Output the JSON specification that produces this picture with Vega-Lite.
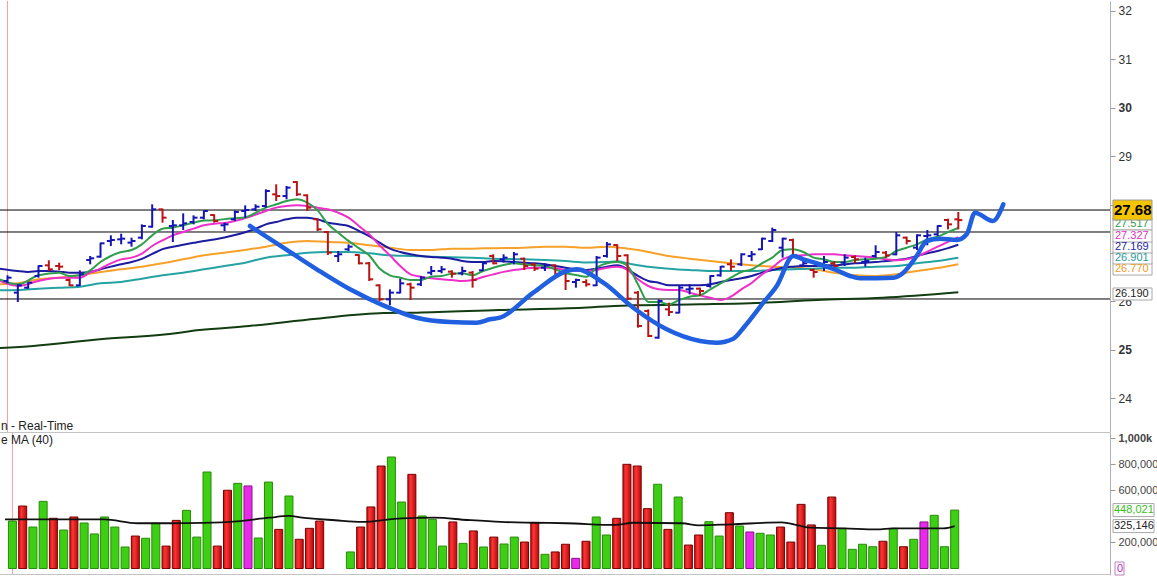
{
"$schema":"https://vega.github.io/schema/vega-lite/v6.json",
"background":"#ffffff",
"padding":0,
"spacing":0,
"bounds":"flush",
"config":{"view":{"stroke":null},"font":"Liberation Sans","axis":{"grid":false}},
"datasets":{
"bars":[
{"i":0,"o":26.422,"h":26.539,"l":26.373,"c":26.49,"d":"u","v":364000,"vc":"g"},
{"i":1,"o":26.181,"h":26.353,"l":25.988,"c":26.332,"d":"u","v":479000,"vc":"r"},
{"i":2,"o":26.284,"h":26.401,"l":26.263,"c":26.387,"d":"u","v":318000,"vc":"g"},
{"i":3,"o":26.525,"h":26.745,"l":26.49,"c":26.732,"d":"u","v":515000,"vc":"g"},
{"i":4,"o":26.745,"h":26.849,"l":26.628,"c":26.663,"d":"d","v":385000,"vc":"r"},
{"i":5,"o":26.732,"h":26.8,"l":26.642,"c":26.718,"d":"d","v":295000,"vc":"g"},
{"i":6,"o":26.442,"h":26.47,"l":26.318,"c":26.332,"d":"d","v":395000,"vc":"r"},
{"i":7,"o":26.332,"h":26.642,"l":26.318,"c":26.559,"d":"u","v":349000,"vc":"g"},
{"i":8,"o":26.855,"h":26.938,"l":26.766,"c":26.89,"d":"u","v":265000,"vc":"g"},
{"i":9,"o":26.924,"h":27.214,"l":26.904,"c":27.2,"d":"u","v":395000,"vc":"g"},
{"i":10,"o":27.248,"h":27.365,"l":27.145,"c":27.269,"d":"u","v":318000,"vc":"g"},
{"i":11,"o":27.282,"h":27.4,"l":27.179,"c":27.296,"d":"u","v":165000,"vc":"g"},
{"i":12,"o":27.214,"h":27.317,"l":27.131,"c":27.248,"d":"u","v":249000,"vc":"r"},
{"i":13,"o":27.317,"h":27.592,"l":27.282,"c":27.558,"d":"u","v":232000,"vc":"g"},
{"i":14,"o":27.544,"h":28.006,"l":27.524,"c":27.902,"d":"u","v":347000,"vc":"g"},
{"i":15,"o":27.902,"h":27.916,"l":27.627,"c":27.73,"d":"d","v":172000,"vc":"r"},
{"i":16,"o":27.558,"h":27.682,"l":27.227,"c":27.572,"d":"u","v":369000,"vc":"r"},
{"i":17,"o":27.572,"h":27.82,"l":27.475,"c":27.613,"d":"u","v":446000,"vc":"g"},
{"i":18,"o":27.641,"h":27.778,"l":27.592,"c":27.73,"d":"u","v":241000,"vc":"g"},
{"i":19,"o":27.73,"h":27.882,"l":27.696,"c":27.868,"d":"u","v":740000,"vc":"g"},
{"i":20,"o":27.785,"h":27.799,"l":27.627,"c":27.661,"d":"d","v":172000,"vc":"r"},
{"i":21,"o":27.572,"h":27.627,"l":27.455,"c":27.592,"d":"u","v":600000,"vc":"r"},
{"i":22,"o":27.696,"h":27.882,"l":27.661,"c":27.847,"d":"u","v":653000,"vc":"g"},
{"i":23,"o":27.868,"h":27.985,"l":27.73,"c":27.888,"d":"u","v":633000,"vc":"m"},
{"i":24,"o":27.902,"h":28.006,"l":27.868,"c":27.957,"d":"u","v":234000,"vc":"g"},
{"i":25,"o":27.971,"h":28.316,"l":27.937,"c":28.281,"d":"u","v":663000,"vc":"g"},
{"i":26,"o":28.212,"h":28.419,"l":28.074,"c":28.178,"d":"d","v":300000,"vc":"r"},
{"i":27,"o":28.178,"h":28.384,"l":28.109,"c":28.35,"d":"u","v":556000,"vc":"g"},
{"i":28,"o":28.467,"h":28.488,"l":28.178,"c":28.212,"d":"d","v":224000,"vc":"r"},
{"i":29,"o":28.192,"h":28.212,"l":27.868,"c":27.937,"d":"d","v":308000,"vc":"r"},
{"i":30,"o":27.696,"h":27.709,"l":27.455,"c":27.489,"d":"d","v":364000,"vc":"r"},
{"i":31,"o":27.434,"h":27.455,"l":26.959,"c":27.007,"d":"d","v":null,"vc":"r"},
{"i":32,"o":26.938,"h":27.041,"l":26.814,"c":26.973,"d":"u","v":null,"vc":"g"},
{"i":33,"o":27.076,"h":27.179,"l":27.041,"c":27.131,"d":"u","v":127000,"vc":"g"},
{"i":34,"o":26.959,"h":26.973,"l":26.766,"c":26.787,"d":"d","v":318000,"vc":"r"},
{"i":35,"o":26.787,"h":26.814,"l":26.422,"c":26.456,"d":"d","v":472000,"vc":"r"},
{"i":36,"o":26.332,"h":26.353,"l":26.008,"c":26.043,"d":"d","v":786000,"vc":"r"},
{"i":37,"o":26.043,"h":26.249,"l":25.919,"c":26.181,"d":"u","v":855000,"vc":"g"},
{"i":38,"o":26.181,"h":26.47,"l":26.167,"c":26.373,"d":"u","v":510000,"vc":"g"},
{"i":39,"o":26.353,"h":26.387,"l":26.029,"c":26.284,"d":"d","v":722000,"vc":"r"},
{"i":40,"o":26.353,"h":26.525,"l":26.318,"c":26.49,"d":"u","v":403000,"vc":"g"},
{"i":41,"o":26.594,"h":26.732,"l":26.539,"c":26.628,"d":"u","v":377000,"vc":"g"},
{"i":42,"o":26.628,"h":26.732,"l":26.58,"c":26.663,"d":"u","v":172000,"vc":"g"},
{"i":43,"o":26.614,"h":26.642,"l":26.49,"c":26.573,"d":"d","v":357000,"vc":"r"},
{"i":44,"o":26.58,"h":26.718,"l":26.539,"c":26.628,"d":"u","v":193000,"vc":"g"},
{"i":45,"o":26.594,"h":26.628,"l":26.284,"c":26.442,"d":"d","v":288000,"vc":"r"},
{"i":46,"o":26.642,"h":26.814,"l":26.628,"c":26.787,"d":"u","v":165000,"vc":"g"},
{"i":47,"o":26.938,"h":26.973,"l":26.766,"c":26.787,"d":"d","v":241000,"vc":"r"},
{"i":48,"o":26.869,"h":26.973,"l":26.8,"c":26.904,"d":"u","v":188000,"vc":"g"},
{"i":49,"o":26.814,"h":27.021,"l":26.766,"c":26.973,"d":"u","v":241000,"vc":"g"},
{"i":50,"o":26.883,"h":26.904,"l":26.649,"c":26.732,"d":"d","v":203000,"vc":"r"},
{"i":51,"o":26.766,"h":26.787,"l":26.628,"c":26.677,"d":"d","v":351000,"vc":"r"},
{"i":52,"o":26.697,"h":26.787,"l":26.628,"c":26.745,"d":"u","v":109000,"vc":"g"},
{"i":53,"o":26.745,"h":26.766,"l":26.525,"c":26.559,"d":"d","v":127000,"vc":"r"},
{"i":54,"o":26.58,"h":26.594,"l":26.236,"c":26.422,"d":"d","v":186000,"vc":"r"},
{"i":55,"o":26.401,"h":26.47,"l":26.284,"c":26.442,"d":"u","v":78000,"vc":"m"},
{"i":56,"o":26.401,"h":26.456,"l":26.305,"c":26.353,"d":"d","v":209000,"vc":"r"},
{"i":57,"o":26.332,"h":26.938,"l":26.318,"c":26.904,"d":"u","v":395000,"vc":"g"},
{"i":58,"o":26.938,"h":27.227,"l":26.904,"c":27.179,"d":"u","v":257000,"vc":"g"},
{"i":59,"o":27.165,"h":27.179,"l":26.835,"c":26.938,"d":"d","v":385000,"vc":"r"},
{"i":60,"o":26.952,"h":26.973,"l":26.029,"c":26.057,"d":"d","v":799000,"vc":"r"},
{"i":61,"o":26.181,"h":26.215,"l":25.457,"c":25.492,"d":"d","v":786000,"vc":"r"},
{"i":62,"o":25.802,"h":25.836,"l":25.265,"c":25.285,"d":"d","v":459000,"vc":"r"},
{"i":63,"o":25.251,"h":26.043,"l":25.23,"c":26.008,"d":"u","v":646000,"vc":"g"},
{"i":64,"o":25.836,"h":25.974,"l":25.698,"c":25.781,"d":"d","v":300000,"vc":"r"},
{"i":65,"o":25.767,"h":26.318,"l":25.753,"c":26.284,"d":"u","v":548000,"vc":"g"},
{"i":66,"o":26.249,"h":26.353,"l":26.146,"c":26.263,"d":"u","v":180000,"vc":"r"},
{"i":67,"o":26.263,"h":26.284,"l":26.112,"c":26.215,"d":"d","v":257000,"vc":"r"},
{"i":68,"o":26.318,"h":26.539,"l":26.284,"c":26.525,"d":"u","v":359000,"vc":"g"},
{"i":69,"o":26.539,"h":26.732,"l":26.511,"c":26.718,"d":"u","v":249000,"vc":"g"},
{"i":70,"o":26.766,"h":26.869,"l":26.628,"c":26.718,"d":"d","v":428000,"vc":"r"},
{"i":71,"o":26.766,"h":26.993,"l":26.732,"c":26.973,"d":"u","v":326000,"vc":"g"},
{"i":72,"o":26.938,"h":27.041,"l":26.835,"c":26.973,"d":"u","v":280000,"vc":"m"},
{"i":73,"o":27.076,"h":27.317,"l":27.062,"c":27.296,"d":"u","v":270000,"vc":"g"},
{"i":74,"o":27.248,"h":27.524,"l":27.227,"c":27.475,"d":"u","v":257000,"vc":"g"},
{"i":75,"o":27.11,"h":27.317,"l":26.904,"c":27.296,"d":"u","v":318000,"vc":"r"},
{"i":76,"o":27.269,"h":27.296,"l":26.904,"c":26.952,"d":"d","v":203000,"vc":"r"},
{"i":77,"o":26.745,"h":26.869,"l":26.732,"c":26.787,"d":"u","v":492000,"vc":"r"},
{"i":78,"o":26.649,"h":26.677,"l":26.49,"c":26.608,"d":"d","v":334000,"vc":"r"},
{"i":79,"o":26.732,"h":26.938,"l":26.628,"c":26.814,"d":"u","v":178000,"vc":"g"},
{"i":80,"o":26.787,"h":26.835,"l":26.663,"c":26.732,"d":"d","v":548000,"vc":"r"},
{"i":81,"o":26.8,"h":26.973,"l":26.732,"c":26.904,"d":"u","v":308000,"vc":"g"},
{"i":82,"o":26.917,"h":26.952,"l":26.787,"c":26.869,"d":"d","v":147000,"vc":"g"},
{"i":83,"o":26.814,"h":26.904,"l":26.718,"c":26.835,"d":"u","v":186000,"vc":"g"},
{"i":84,"o":26.938,"h":27.159,"l":26.904,"c":27.021,"d":"u","v":167000,"vc":"g"},
{"i":85,"o":27.007,"h":27.041,"l":26.904,"c":26.952,"d":"d","v":209000,"vc":"r"},
{"i":86,"o":26.973,"h":27.434,"l":26.952,"c":27.365,"d":"u","v":308000,"vc":"g"},
{"i":87,"o":27.317,"h":27.338,"l":27.179,"c":27.248,"d":"d","v":167000,"vc":"r"},
{"i":88,"o":27.11,"h":27.386,"l":27.062,"c":27.365,"d":"u","v":224000,"vc":"g"},
{"i":89,"o":27.351,"h":27.475,"l":27.159,"c":27.365,"d":"u","v":357000,"vc":"m"},
{"i":90,"o":27.386,"h":27.572,"l":27.351,"c":27.558,"d":"u","v":408000,"vc":"g"},
{"i":91,"o":27.682,"h":27.709,"l":27.489,"c":27.592,"d":"d","v":167000,"vc":"g"},
{"i":92,"o":27.696,"h":27.847,"l":27.489,"c":27.68,"d":"d","v":448021,"vc":"g"}
],
"ma":[
{"s":"d","i":-0.73,"p":25.037},{"s":"d","i":2.5,"p":25.079},{"s":"d","i":8.95,"p":25.217},{"s":"d","i":15.4,"p":25.32},{"s":"d","i":18.6,"p":25.409},{"s":"d","i":23.4,"p":25.492},{"s":"d","i":29.9,"p":25.643},{"s":"d","i":36.4,"p":25.76},{"s":"d","i":39.6,"p":25.767},{"s":"d","i":47.6,"p":25.822},{"s":"d","i":55.7,"p":25.87},{"s":"d","i":60.6,"p":25.919},{"s":"d","i":67,"p":25.94},{"s":"d","i":71.84,"p":25.961},{"s":"d","i":78.3,"p":26.029},{"s":"d","i":84.7,"p":26.077},{"s":"d","i":92,"p":26.19},
{"s":"o","i":-0.73,"p":26.353},{"s":"o","i":1,"p":26.373},{"s":"o","i":3,"p":26.456},{"s":"o","i":5,"p":26.49},{"s":"o","i":7,"p":26.539},{"s":"o","i":9,"p":26.608},{"s":"o","i":11,"p":26.663},{"s":"o","i":13,"p":26.718},{"s":"o","i":15,"p":26.787},{"s":"o","i":17,"p":26.869},{"s":"o","i":19,"p":26.952},{"s":"o","i":21,"p":27.007},{"s":"o","i":23,"p":27.062},{"s":"o","i":25,"p":27.131},{"s":"o","i":27,"p":27.214},{"s":"o","i":29,"p":27.248},{"s":"o","i":31,"p":27.227},{"s":"o","i":33,"p":27.214},{"s":"o","i":35,"p":27.159},{"s":"o","i":37,"p":27.11},{"s":"o","i":39,"p":27.062},{"s":"o","i":41,"p":27.062},{"s":"o","i":43,"p":27.09},{"s":"o","i":45,"p":27.09},{"s":"o","i":47,"p":27.1},{"s":"o","i":50,"p":27.11},{"s":"o","i":52,"p":27.131},{"s":"o","i":54,"p":27.131},{"s":"o","i":56,"p":27.11},{"s":"o","i":58,"p":27.131},{"s":"o","i":60,"p":27.09},{"s":"o","i":61,"p":27.062},{"s":"o","i":62,"p":27.021},{"s":"o","i":64,"p":26.938},{"s":"o","i":66,"p":26.883},{"s":"o","i":68,"p":26.835},{"s":"o","i":70,"p":26.787},{"s":"o","i":72,"p":26.745},{"s":"o","i":74,"p":26.718},{"s":"o","i":76,"p":26.697},{"s":"o","i":78,"p":26.663},{"s":"o","i":80,"p":26.594},{"s":"o","i":82,"p":26.539},{"s":"o","i":84,"p":26.525},{"s":"o","i":86,"p":26.559},{"s":"o","i":88,"p":26.628},{"s":"o","i":90,"p":26.69},{"s":"o","i":92,"p":26.77},
{"s":"t","i":-0.73,"p":26.229},{"s":"t","i":1,"p":26.236},{"s":"t","i":3,"p":26.263},{"s":"t","i":5,"p":26.284},{"s":"t","i":7,"p":26.305},{"s":"t","i":9,"p":26.373},{"s":"t","i":11,"p":26.401},{"s":"t","i":13,"p":26.47},{"s":"t","i":15,"p":26.539},{"s":"t","i":17,"p":26.594},{"s":"t","i":19,"p":26.663},{"s":"t","i":21,"p":26.732},{"s":"t","i":23,"p":26.8},{"s":"t","i":25,"p":26.904},{"s":"t","i":27,"p":26.952},{"s":"t","i":29,"p":27.007},{"s":"t","i":31,"p":27.021},{"s":"t","i":33,"p":27.021},{"s":"t","i":35,"p":26.993},{"s":"t","i":37,"p":26.952},{"s":"t","i":39,"p":26.938},{"s":"t","i":41,"p":26.924},{"s":"t","i":43,"p":26.91},{"s":"t","i":45,"p":26.9},{"s":"t","i":47,"p":26.883},{"s":"t","i":50,"p":26.869},{"s":"t","i":52,"p":26.855},{"s":"t","i":54,"p":26.835},{"s":"t","i":56,"p":26.805},{"s":"t","i":58,"p":26.814},{"s":"t","i":59,"p":26.83},{"s":"t","i":60,"p":26.787},{"s":"t","i":61,"p":26.745},{"s":"t","i":62,"p":26.718},{"s":"t","i":64,"p":26.677},{"s":"t","i":66,"p":26.649},{"s":"t","i":68,"p":26.628},{"s":"t","i":70,"p":26.628},{"s":"t","i":72,"p":26.628},{"s":"t","i":74,"p":26.649},{"s":"t","i":76,"p":26.663},{"s":"t","i":78,"p":26.677},{"s":"t","i":80,"p":26.697},{"s":"t","i":82,"p":26.697},{"s":"t","i":84,"p":26.718},{"s":"t","i":86,"p":26.732},{"s":"t","i":88,"p":26.787},{"s":"t","i":90,"p":26.835},{"s":"t","i":92,"p":26.901},
{"s":"b","i":-0.73,"p":26.677},{"s":"b","i":1,"p":26.628},{"s":"b","i":2,"p":26.608},{"s":"b","i":3,"p":26.628},{"s":"b","i":4,"p":26.628},{"s":"b","i":5,"p":26.614},{"s":"b","i":6,"p":26.594},{"s":"b","i":7,"p":26.594},{"s":"b","i":8,"p":26.608},{"s":"b","i":9,"p":26.663},{"s":"b","i":10,"p":26.718},{"s":"b","i":11,"p":26.766},{"s":"b","i":12,"p":26.814},{"s":"b","i":13,"p":26.88},{"s":"b","i":14,"p":26.98},{"s":"b","i":15,"p":27.08},{"s":"b","i":16,"p":27.13},{"s":"b","i":17,"p":27.17},{"s":"b","i":18,"p":27.21},{"s":"b","i":19,"p":27.25},{"s":"b","i":20,"p":27.28},{"s":"b","i":21,"p":27.32},{"s":"b","i":22,"p":27.37},{"s":"b","i":23,"p":27.43},{"s":"b","i":24,"p":27.5},{"s":"b","i":25,"p":27.592},{"s":"b","i":26,"p":27.641},{"s":"b","i":27,"p":27.696},{"s":"b","i":28,"p":27.73},{"s":"b","i":29,"p":27.73},{"s":"b","i":30,"p":27.696},{"s":"b","i":31,"p":27.627},{"s":"b","i":32,"p":27.592},{"s":"b","i":33,"p":27.558},{"s":"b","i":34,"p":27.455},{"s":"b","i":35,"p":27.351},{"s":"b","i":36,"p":27.214},{"s":"b","i":37,"p":27.09},{"s":"b","i":38,"p":27.021},{"s":"b","i":39,"p":26.973},{"s":"b","i":40,"p":26.938},{"s":"b","i":41,"p":26.917},{"s":"b","i":42,"p":26.904},{"s":"b","i":43,"p":26.883},{"s":"b","i":44,"p":26.835},{"s":"b","i":45,"p":26.814},{"s":"b","i":46,"p":26.814},{"s":"b","i":47,"p":26.835},{"s":"b","i":48,"p":26.83},{"s":"b","i":49,"p":26.814},{"s":"b","i":50,"p":26.8},{"s":"b","i":51,"p":26.787},{"s":"b","i":52,"p":26.766},{"s":"b","i":53,"p":26.732},{"s":"b","i":54,"p":26.697},{"s":"b","i":55,"p":26.663},{"s":"b","i":56,"p":26.649},{"s":"b","i":57,"p":26.677},{"s":"b","i":58,"p":26.718},{"s":"b","i":59,"p":26.745},{"s":"b","i":60,"p":26.663},{"s":"b","i":61,"p":26.525},{"s":"b","i":62,"p":26.422},{"s":"b","i":63,"p":26.387},{"s":"b","i":64,"p":26.332},{"s":"b","i":65,"p":26.332},{"s":"b","i":66,"p":26.332},{"s":"b","i":67,"p":26.332},{"s":"b","i":68,"p":26.353},{"s":"b","i":69,"p":26.401},{"s":"b","i":70,"p":26.442},{"s":"b","i":71,"p":26.477},{"s":"b","i":72,"p":26.525},{"s":"b","i":73,"p":26.594},{"s":"b","i":74,"p":26.649},{"s":"b","i":75,"p":26.697},{"s":"b","i":76,"p":26.718},{"s":"b","i":77,"p":26.732},{"s":"b","i":78,"p":26.732},{"s":"b","i":79,"p":26.745},{"s":"b","i":80,"p":26.745},{"s":"b","i":81,"p":26.766},{"s":"b","i":82,"p":26.787},{"s":"b","i":83,"p":26.8},{"s":"b","i":84,"p":26.814},{"s":"b","i":85,"p":26.835},{"s":"b","i":86,"p":26.855},{"s":"b","i":87,"p":26.883},{"s":"b","i":88,"p":26.938},{"s":"b","i":89,"p":26.993},{"s":"b","i":90,"p":27.041},{"s":"b","i":91,"p":27.1},{"s":"b","i":92,"p":27.169},
{"s":"m","i":-0.73,"p":26.422},{"s":"m","i":1,"p":26.318},{"s":"m","i":3,"p":26.422},{"s":"m","i":5,"p":26.49},{"s":"m","i":7,"p":26.49},{"s":"m","i":8,"p":26.594},{"s":"m","i":9,"p":26.677},{"s":"m","i":10,"p":26.787},{"s":"m","i":11,"p":26.869},{"s":"m","i":12,"p":26.904},{"s":"m","i":13,"p":26.986},{"s":"m","i":14,"p":27.145},{"s":"m","i":15,"p":27.262},{"s":"m","i":16,"p":27.365},{"s":"m","i":17,"p":27.434},{"s":"m","i":18,"p":27.503},{"s":"m","i":19,"p":27.572},{"s":"m","i":20,"p":27.606},{"s":"m","i":21,"p":27.62},{"s":"m","i":22,"p":27.66},{"s":"m","i":23,"p":27.72},{"s":"m","i":25,"p":27.868},{"s":"m","i":26,"p":27.937},{"s":"m","i":27,"p":27.971},{"s":"m","i":28,"p":27.985},{"s":"m","i":29,"p":27.971},{"s":"m","i":30,"p":27.937},{"s":"m","i":31,"p":27.902},{"s":"m","i":32,"p":27.833},{"s":"m","i":33,"p":27.73},{"s":"m","i":34,"p":27.558},{"s":"m","i":35,"p":27.386},{"s":"m","i":36,"p":27.159},{"s":"m","i":37,"p":26.952},{"s":"m","i":38,"p":26.732},{"s":"m","i":39,"p":26.559},{"s":"m","i":40,"p":26.511},{"s":"m","i":41,"p":26.477},{"s":"m","i":42,"p":26.456},{"s":"m","i":43,"p":26.442},{"s":"m","i":44,"p":26.422},{"s":"m","i":45,"p":26.442},{"s":"m","i":46,"p":26.504},{"s":"m","i":47,"p":26.559},{"s":"m","i":48,"p":26.61},{"s":"m","i":49,"p":26.649},{"s":"m","i":50,"p":26.677},{"s":"m","i":51,"p":26.697},{"s":"m","i":52,"p":26.697},{"s":"m","i":53,"p":26.683},{"s":"m","i":54,"p":26.649},{"s":"m","i":55,"p":26.628},{"s":"m","i":56,"p":26.628},{"s":"m","i":57,"p":26.649},{"s":"m","i":58,"p":26.697},{"s":"m","i":59,"p":26.718},{"s":"m","i":60,"p":26.649},{"s":"m","i":61,"p":26.456},{"s":"m","i":62,"p":26.318},{"s":"m","i":63,"p":26.249},{"s":"m","i":64,"p":26.236},{"s":"m","i":65,"p":26.236},{"s":"m","i":66,"p":26.181},{"s":"m","i":67,"p":26.125},{"s":"m","i":68,"p":26.077},{"s":"m","i":69,"p":26.029},{"s":"m","i":70,"p":26.098},{"s":"m","i":71,"p":26.249},{"s":"m","i":72,"p":26.38},{"s":"m","i":73,"p":26.559},{"s":"m","i":74,"p":26.697},{"s":"m","i":75,"p":26.869},{"s":"m","i":76,"p":26.938},{"s":"m","i":77,"p":26.952},{"s":"m","i":78,"p":26.973},{"s":"m","i":79,"p":26.973},{"s":"m","i":80,"p":26.973},{"s":"m","i":81,"p":26.952},{"s":"m","i":82,"p":26.938},{"s":"m","i":83,"p":26.924},{"s":"m","i":84,"p":26.904},{"s":"m","i":85,"p":26.87},{"s":"m","i":86,"p":26.85},{"s":"m","i":87,"p":26.87},{"s":"m","i":88,"p":26.93},{"s":"m","i":89,"p":27.03},{"s":"m","i":90,"p":27.13},{"s":"m","i":91,"p":27.23},{"s":"m","i":92,"p":27.327},
{"s":"g","i":-0.73,"p":26.456},{"s":"g","i":1,"p":26.353},{"s":"g","i":3,"p":26.539},{"s":"g","i":5,"p":26.594},{"s":"g","i":6,"p":26.525},{"s":"g","i":7,"p":26.539},{"s":"g","i":8,"p":26.642},{"s":"g","i":9,"p":26.814},{"s":"g","i":10,"p":26.938},{"s":"g","i":11,"p":27.021},{"s":"g","i":12,"p":27.062},{"s":"g","i":13,"p":27.179},{"s":"g","i":14,"p":27.365},{"s":"g","i":15,"p":27.503},{"s":"g","i":16,"p":27.524},{"s":"g","i":17,"p":27.572},{"s":"g","i":18,"p":27.627},{"s":"g","i":19,"p":27.67},{"s":"g","i":20,"p":27.675},{"s":"g","i":21,"p":27.7},{"s":"g","i":22,"p":27.72},{"s":"g","i":23,"p":27.74},{"s":"g","i":25,"p":27.937},{"s":"g","i":26,"p":28.006},{"s":"g","i":27,"p":28.074},{"s":"g","i":28,"p":28.109},{"s":"g","i":29,"p":28.04},{"s":"g","i":30,"p":27.88},{"s":"g","i":31,"p":27.6},{"s":"g","i":32,"p":27.42},{"s":"g","i":33,"p":27.25},{"s":"g","i":34,"p":27.1},{"s":"g","i":35,"p":26.95},{"s":"g","i":36,"p":26.68},{"s":"g","i":37,"p":26.539},{"s":"g","i":38,"p":26.49},{"s":"g","i":39,"p":26.442},{"s":"g","i":40,"p":26.442},{"s":"g","i":41,"p":26.511},{"s":"g","i":42,"p":26.525},{"s":"g","i":43,"p":26.573},{"s":"g","i":44,"p":26.58},{"s":"g","i":45,"p":26.539},{"s":"g","i":46,"p":26.628},{"s":"g","i":47,"p":26.697},{"s":"g","i":48,"p":26.75},{"s":"g","i":49,"p":26.787},{"s":"g","i":50,"p":26.766},{"s":"g","i":51,"p":26.745},{"s":"g","i":52,"p":26.732},{"s":"g","i":53,"p":26.663},{"s":"g","i":54,"p":26.58},{"s":"g","i":55,"p":26.546},{"s":"g","i":56,"p":26.511},{"s":"g","i":57,"p":26.697},{"s":"g","i":58,"p":26.787},{"s":"g","i":59,"p":26.814},{"s":"g","i":60,"p":26.732},{"s":"g","i":61,"p":26.353},{"s":"g","i":62,"p":25.988},{"s":"g","i":63,"p":25.988},{"s":"g","i":64,"p":25.94},{"s":"g","i":65,"p":26.029},{"s":"g","i":66,"p":26.098},{"s":"g","i":67,"p":26.125},{"s":"g","i":68,"p":26.249},{"s":"g","i":69,"p":26.373},{"s":"g","i":70,"p":26.49},{"s":"g","i":71,"p":26.608},{"s":"g","i":72,"p":26.66},{"s":"g","i":73,"p":26.787},{"s":"g","i":74,"p":26.904},{"s":"g","i":75,"p":27.062},{"s":"g","i":76,"p":27.076},{"s":"g","i":77,"p":27.021},{"s":"g","i":78,"p":26.904},{"s":"g","i":79,"p":26.869},{"s":"g","i":80,"p":26.814},{"s":"g","i":81,"p":26.814},{"s":"g","i":82,"p":26.855},{"s":"g","i":83,"p":26.869},{"s":"g","i":84,"p":26.883},{"s":"g","i":85,"p":26.917},{"s":"g","i":86,"p":27.041},{"s":"g","i":87,"p":27.11},{"s":"g","i":88,"p":27.179},{"s":"g","i":89,"p":27.282},{"s":"g","i":90,"p":27.338},{"s":"g","i":91,"p":27.43},{"s":"g","i":92,"p":27.517}
],
"vma":[
{"i":-0.73,"v":377000},{"i":2.5,"v":377000},{"i":5.7,"v":377000},{"i":8.95,"v":377000},{"i":12.2,"v":347000},{"i":15.4,"v":347000},{"i":18.6,"v":350000},{"i":21.9,"v":362000},{"i":25.1,"v":390000},{"i":27,"v":403000},{"i":28.3,"v":390000},{"i":31.5,"v":370000},{"i":34.1,"v":357000},{"i":38,"v":385000},{"i":41.2,"v":390000},{"i":44.4,"v":372000},{"i":47.7,"v":357000},{"i":50.9,"v":351000},{"i":54.1,"v":347000},{"i":58.9,"v":334000},{"i":60.6,"v":351000},{"i":65.4,"v":347000},{"i":67,"v":331000},{"i":70.2,"v":339000},{"i":75.1,"v":353000},{"i":76.7,"v":331000},{"i":77.9,"v":313000},{"i":81.2,"v":308000},{"i":84.4,"v":300000},{"i":86,"v":308000},{"i":89.3,"v":308000},{"i":90.9,"v":308000},{"i":92,"v":325146}
],
"curve":[
{"i":23.46,"p":27.558},{"i":26.69,"p":27.11},{"i":29.92,"p":26.663},{"i":33.14,"p":26.25},{"i":36.36,"p":25.919},{"i":39.59,"p":25.663},{"i":42.82,"p":25.574},{"i":45.4,"p":25.56},{"i":46.69,"p":25.63},{"i":47.65,"p":25.663},{"i":50.87,"p":26.18},{"i":54.11,"p":26.628},{"i":55.07,"p":26.663},{"i":57.65,"p":26.386},{"i":60.55,"p":25.87},{"i":63.78,"p":25.424},{"i":67.01,"p":25.182},{"i":68.62,"p":25.147},{"i":70.23,"p":25.229},{"i":71.36,"p":25.492},{"i":73.13,"p":25.973},{"i":74.43,"p":26.318},{"i":76.03,"p":26.938},{"i":77,"p":26.87},{"i":78.94,"p":26.746},{"i":80.23,"p":26.643},{"i":81.52,"p":26.525},{"i":82.49,"p":26.477},{"i":85.71,"p":26.49},{"i":86.68,"p":26.593},{"i":87.97,"p":26.938},{"i":88.94,"p":27.248},{"i":90.23,"p":27.295},{"i":91.85,"p":27.269},{"i":92.81,"p":27.386},{"i":93.61,"p":27.833},{"i":95.35,"p":27.661},{"i":96.35,"p":28.006}
],
"ptags":[
{"lab":"27.517","at":27.599,"s":"g"},{"lab":"26.190","at":26.153,"s":"k"},{"lab":"26.770","at":26.669,"s":"o"},{"lab":"26.901","at":26.897,"s":"t"},{"lab":"27.169","at":27.124,"s":"b"},{"lab":"27.327","at":27.351,"s":"m"}
],
"vtags":[
{"lab":"448,021","v":448021,"s":"g"},{"lab":"325,146","v":325146,"s":"k"}
]
},
"vconcat":[
{
"width":1110,"height":431,
"resolve":{"scale":{"color":"independent"}},
"layer":[
{"data":{"values":[{"k":0}]},"mark":{"type":"rule","color":"#f2a3a3","strokeWidth":1},
 "encoding":{"x":{"datum":0,"type":"quantitative","scale":{"domain":[-0.7257,106.676],"nice":false,"zero":false},"axis":null}}},
{"data":{"values":[{"p":27.888},{"p":27.434},{"p":26.05}]},"mark":{"type":"rule","color":"#000000","strokeWidth":1,"clip":true},
 "encoding":{"y":{"field":"p","type":"quantitative","title":null,"scale":{"domain":[23.3017,32.2066],"nice":false,"zero":false},
  "axis":{"orient":"right","grid":false,"values":[24,25,26,27,28,29,30,31,32],"format":"d","tickSize":5,"tickColor":"#999999","domainColor":"#b0b0b0","labelColor":"#333333","labelFontSize":12,"labelPadding":3,"labelFlush":false,"labelOverlap":false,"labelFontWeight":{"condition":{"test":"datum.value == 25 || datum.value == 30","value":"bold"},"value":"normal"}}}}},
{"data":{"name":"ma"},"mark":{"type":"line","strokeWidth":2,"interpolate":"monotone","clip":true,"strokeJoin":"round"},
 "encoding":{"x":{"field":"i","type":"quantitative","scale":{"domain":[-0.7257,106.676],"nice":false,"zero":false},"axis":null},
  "y":{"field":"p","type":"quantitative","title":null,"scale":{"domain":[23.3017,32.2066],"nice":false,"zero":false}},
  "color":{"field":"s","type":"nominal","legend":null,"scale":{"domain":["g","m","b","t","o","d"],"range":["#2f9e4f","#ee2fc9","#1c1ca0","#25a3a3","#f7a12a","#123d12"]}}}},
{"data":{"name":"bars"},"mark":{"type":"rule","strokeWidth":2},
 "encoding":{"x":{"field":"i","type":"quantitative","scale":{"domain":[-0.7257,106.676],"nice":false,"zero":false},"axis":null},
  "y":{"field":"l","type":"quantitative","title":null,"scale":{"domain":[23.3017,32.2066],"nice":false,"zero":false}},
  "y2":{"field":"h"},
  "color":{"field":"d","type":"nominal","legend":null,"scale":{"domain":["u","d"],"range":["#1515b5","#b81414"]}}}},
{"data":{"name":"bars"},"mark":{"type":"rule","strokeWidth":2,"xOffset":-4,"x2Offset":0},
 "encoding":{"x":{"field":"i","type":"quantitative","scale":{"domain":[-0.7257,106.676],"nice":false,"zero":false},"axis":null},
  "x2":{"field":"i"},
  "y":{"field":"o","type":"quantitative","title":null,"scale":{"domain":[23.3017,32.2066],"nice":false,"zero":false}},
  "color":{"field":"d","type":"nominal","legend":null,"scale":{"domain":["u","d"],"range":["#1515b5","#b81414"]}}}},
{"data":{"name":"bars"},"mark":{"type":"rule","strokeWidth":2,"xOffset":0,"x2Offset":4},
 "encoding":{"x":{"field":"i","type":"quantitative","scale":{"domain":[-0.7257,106.676],"nice":false,"zero":false},"axis":null},
  "x2":{"field":"i"},
  "y":{"field":"c","type":"quantitative","title":null,"scale":{"domain":[23.3017,32.2066],"nice":false,"zero":false}},
  "color":{"field":"d","type":"nominal","legend":null,"scale":{"domain":["u","d"],"range":["#1515b5","#b81414"]}}}},
{"data":{"name":"curve"},"mark":{"type":"line","strokeWidth":4.5,"color":"#1f5fe0","interpolate":"monotone","strokeCap":"round","strokeJoin":"round"},
 "encoding":{"x":{"field":"i","type":"quantitative","scale":{"domain":[-0.7257,106.676],"nice":false,"zero":false},"axis":null},
  "y":{"field":"p","type":"quantitative","title":null,"scale":{"domain":[23.3017,32.2066],"nice":false,"zero":false}}}},
{"data":{"name":"ptags"},"mark":{"type":"rect","xOffset":3,"x2Offset":42,"yOffset":-6,"y2Offset":6,"fill":"#ffffff","stroke":"#a8a8a8","strokeWidth":1},
 "encoding":{"x":{"value":"width"},"x2":{"value":"width"},
  "y":{"field":"at","type":"quantitative","title":null,"scale":{"domain":[23.3017,32.2066],"nice":false,"zero":false}},"y2":{"field":"at"}}},
{"data":{"name":"ptags"},"mark":{"type":"text","align":"left","baseline":"middle","dx":5,"fontSize":11},
 "encoding":{"x":{"value":"width"},
  "y":{"field":"at","type":"quantitative","title":null,"scale":{"domain":[23.3017,32.2066],"nice":false,"zero":false}},
  "text":{"field":"lab"},
  "color":{"field":"s","type":"nominal","legend":null,"scale":{"domain":["g","m","b","t","o","k"],"range":["#2a9d4a","#e02fc4","#2323a8","#1f9b9b","#f29a1f","#1a1a1a"]}}}},
{"data":{"values":[{"lab":"27.68","at":27.888}]},"mark":{"type":"rect","xOffset":3,"x2Offset":42,"yOffset":-10,"y2Offset":10,"fill":"#f5c400","stroke":"#999999","strokeWidth":1},
 "encoding":{"x":{"value":"width"},"x2":{"value":"width"},
  "y":{"field":"at","type":"quantitative","title":null,"scale":{"domain":[23.3017,32.2066],"nice":false,"zero":false}},"y2":{"field":"at"}}},
{"data":{"values":[{"lab":"27.68","at":27.888}]},"mark":{"type":"text","align":"left","baseline":"middle","dx":4,"fontSize":15,"fontWeight":"bold","color":"#000000"},
 "encoding":{"x":{"value":"width"},
  "y":{"field":"at","type":"quantitative","title":null,"scale":{"domain":[23.3017,32.2066],"nice":false,"zero":false}},
  "text":{"field":"lab"}}},
{"data":{"values":[{"t":"n - Real-Time"}]},"mark":{"type":"text","align":"left","baseline":"middle","dx":1,"dy":-6,"fontSize":12,"color":"#222222"},
 "encoding":{"x":{"value":0},"y":{"value":"height"},"text":{"field":"t"}}}
]
},
{
"width":1110,"height":143,
"resolve":{"scale":{"color":"independent","fill":"independent","stroke":"independent"}},
"layer":[
{"data":{"values":[{"k":0}]},"mark":{"type":"rule","color":"#f2a3a3","strokeWidth":1},
 "encoding":{"x":{"datum":0,"type":"quantitative","scale":{"domain":[-0.7257,106.676],"nice":false,"zero":false},"axis":null}}},
{"data":{"values":[{"v":1046800},{"v":-49800}]},"mark":{"type":"rule","color":"#c4c4c4","strokeWidth":2,"clip":true},
 "encoding":{"y":{"field":"v","type":"quantitative","title":null,"scale":{"domain":[-49800,1046800],"nice":false,"zero":false}}}},
{"data":{"name":"bars"},"transform":[{"filter":"datum.vc != 'r'"}],"mark":{"type":"bar","width":8,"strokeWidth":1},
 "encoding":{"x":{"field":"i","type":"quantitative","scale":{"domain":[-0.7257,106.676],"nice":false,"zero":false},"axis":null},
  "y":{"field":"v","type":"quantitative","title":null,"scale":{"domain":[-49800,1046800],"nice":false,"zero":false},
   "axis":{"orient":"right","grid":false,"values":[200000,600000,800000,1000000],"labelExpr":"datum.value == 1000000 ? '1,000k' : format(datum.value, ',')","tickSize":5,"tickColor":"#999999","domainColor":"#b0b0b0","labelColor":"#444444","labelFontSize":11,"labelPadding":3,"labelFlush":false,"labelOverlap":false,"labelFontWeight":{"condition":{"test":"datum.value == 1000000","value":"bold"},"value":"normal"}}},
  "y2":{"datum":0},
  "fill":{"field":"vc","type":"nominal","legend":null,"scale":{"domain":["g","m"],"range":["#3ccf14","#e82be8"]}},
  "stroke":{"field":"vc","type":"nominal","legend":null,"scale":{"domain":["g","m"],"range":["#2a8a0a","#8a108a"]}}}},
{"data":{"name":"bars"},"transform":[{"filter":"datum.vc == 'r'"}],
 "mark":{"type":"bar","width":8,"strokeWidth":1,"stroke":"#7a0000","fill":{"gradient":"linear","x1":0,"x2":1,"y1":0,"y2":0,"stops":[{"offset":0,"color":"#c41010"},{"offset":0.35,"color":"#ff3434"},{"offset":1,"color":"#b00c0c"}]}},
 "encoding":{"x":{"field":"i","type":"quantitative","scale":{"domain":[-0.7257,106.676],"nice":false,"zero":false},"axis":null},
  "y":{"field":"v","type":"quantitative","title":null,"scale":{"domain":[-49800,1046800],"nice":false,"zero":false}},
  "y2":{"datum":0}}},
{"data":{"name":"vma"},"mark":{"type":"line","color":"#111111","strokeWidth":1.8,"interpolate":"monotone","clip":true,"strokeJoin":"round"},
 "encoding":{"x":{"field":"i","type":"quantitative","scale":{"domain":[-0.7257,106.676],"nice":false,"zero":false},"axis":null},
  "y":{"field":"v","type":"quantitative","title":null,"scale":{"domain":[-49800,1046800],"nice":false,"zero":false}}}},
{"data":{"name":"vtags"},"mark":{"type":"rect","xOffset":3,"x2Offset":44,"yOffset":-6.5,"y2Offset":6.5,"fill":"#ffffff","stroke":"#a8a8a8","strokeWidth":1},
 "encoding":{"x":{"value":"width"},"x2":{"value":"width"},
  "y":{"field":"v","type":"quantitative","title":null,"scale":{"domain":[-49800,1046800],"nice":false,"zero":false}},"y2":{"field":"v"}}},
{"data":{"name":"vtags"},"mark":{"type":"text","align":"left","baseline":"middle","dx":4,"fontSize":11},
 "encoding":{"x":{"value":"width"},
  "y":{"field":"v","type":"quantitative","title":null,"scale":{"domain":[-49800,1046800],"nice":false,"zero":false}},
  "text":{"field":"lab"},
  "color":{"field":"s","type":"nominal","legend":null,"scale":{"domain":["g","k"],"range":["#3cc020","#222222"]}}}},
{"data":{"values":[{"lab":"0","v":0}]},"mark":{"type":"rect","xOffset":5,"x2Offset":14,"yOffset":-6.5,"y2Offset":6.5,"fill":"#ffffff","stroke":"#c080c0","strokeWidth":1},
 "encoding":{"x":{"value":"width"},"x2":{"value":"width"},
  "y":{"field":"v","type":"quantitative","title":null,"scale":{"domain":[-49800,1046800],"nice":false,"zero":false}},"y2":{"field":"v"}}},
{"data":{"values":[{"lab":"0","v":0}]},"mark":{"type":"text","align":"left","baseline":"middle","dx":7,"fontSize":11,"color":"#d020d0"},
 "encoding":{"x":{"value":"width"},
  "y":{"field":"v","type":"quantitative","title":null,"scale":{"domain":[-49800,1046800],"nice":false,"zero":false}},
  "text":{"field":"lab"}}},
{"data":{"values":[{"t":"e   MA (40)"}]},"mark":{"type":"text","align":"left","baseline":"middle","dx":1,"dy":8,"fontSize":12,"color":"#222222"},
 "encoding":{"x":{"value":0},"y":{"value":0},"text":{"field":"t"}}}
]
}
]
}
